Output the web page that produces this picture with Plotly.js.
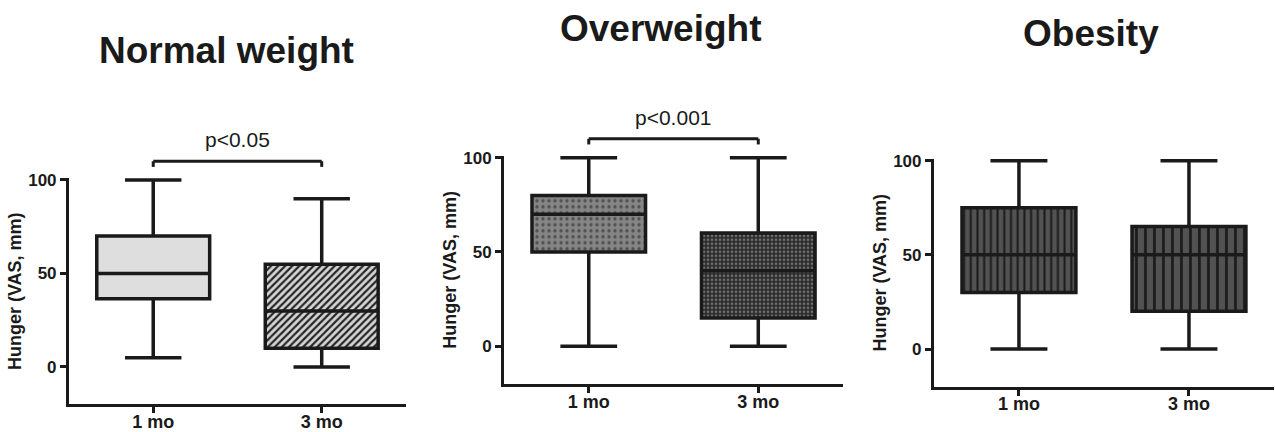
<!DOCTYPE html>
<html>
<head>
<meta charset="utf-8">
<script src="https://cdn.plot.ly/plotly-3.0.1.min.js"></script>
<style>html,body{margin:0;padding:0;background:#fff;}#chart{width:1275px;height:432px;}</style>
</head>
<body>
<div id="chart"></div>
<script>
// ---------- data ----------
const categories = ['1 mo', '3 mo'];
const panelTitles = ['Normal weight', 'Overweight', 'Obesity'];
const pLabels = ['p<0.05', 'p<0.001', null];
const yTickVals = [0, 50, 100];
const yTickText = ['0', '50', '100'];
const yAxisTitle = 'Hunger (VAS, mm)';

// Normal weight
const normalMin    = [5, 0];
const normalQ1     = [36.5, 10];
const normalMedian = [50, 30];
const normalQ3     = [70, 55];
const normalMax    = [100, 90];
// Overweight
const overMin    = [0, 0];
const overQ1     = [50, 15];
const overMedian = [70, 40];
const overQ3     = [80, 60];
const overMax    = [100, 100];
// Obesity
const obeseMin    = [0, 0];
const obeseQ1     = [30, 20];
const obeseMedian = [50, 50];
const obeseQ3     = [75, 65];
const obeseMax    = [100, 100];

// ---------- style ----------
const FONT = 'Liberation Sans, Arial, Helvetica, sans-serif';
const INK = '#1a1a1a';
const Y_RANGE = [-20, 101];
const BRACKET_TOP = 110, BRACKET_END = 107, PLABEL_Y = 121.5;

const panels = [
  {min: normalMin, q1: normalQ1, med: normalMedian, q3: normalQ3, max: normalMax,
   xdom: [0.0541, 0.3184], ydom: [0.0639, 0.5877], titleX: 0.1773, titleY: 0.882,
   solid: '#dedede',
   pattern: {shape: ['', '/'], bg: ['#dedede', '#d6d6d6'], fg: ['#dedede', '#262626'], size: [6, 5], sol: [0.3, 0.45]}},
  {min: overMin, q1: overQ1, med: overMedian, q3: overQ3, max: overMax,
   xdom: [0.3953, 0.6612], ydom: [0.1111, 0.6394], titleX: 0.5184, titleY: 0.933,
   solid: '#808080',
   pattern: {shape: ['.', '+'], bg: ['#858585', '#6e6e6e'], fg: ['#505050', '#262626'], size: [6, 4], sol: [0.25, 0.6]}},
  {min: obeseMin, q1: obeseQ1, med: obeseMedian, q3: obeseQ3, max: obeseMax,
   xdom: [0.7325, 0.9992], ydom: [0.1049, 0.6324], titleX: 0.8557, titleY: 0.922,
   solid: '#505050',
   pattern: {shape: ['|', '|'], bg: ['#525252', '#525252'], fg: ['#1a1a1a', '#1a1a1a'], size: [6.7, 9], sol: [0.3, 0.3]}}
];

function y2paper(p, v) {
  const d = p.ydom;
  return d[0] + (v - Y_RANGE[0]) / (Y_RANGE[1] - Y_RANGE[0]) * (d[1] - d[0]);
}

const traces = [];
const layout = {
  width: 1275, height: 432,
  margin: {l: 0, r: 0, t: 0, b: 0},
  paper_bgcolor: '#ffffff', plot_bgcolor: '#ffffff',
  showlegend: false,
  barmode: 'overlay',
  font: {family: FONT, color: INK},
  annotations: [], shapes: []
};

panels.forEach((p, i) => {
  const n = i + 1;
  const xa = 'x' + (n === 1 ? '' : n);
  const ya = 'y' + (n === 1 ? '' : n);
  // patterned fill of the boxes
  traces.push({
    type: 'bar', x: categories,
    base: p.q1, y: p.q3.map((v, k) => v - p.q1[k]),
    width: 0.67, xaxis: xa, yaxis: ya, hoverinfo: 'skip',
    marker: {color: p.solid, line: {width: 0},
      pattern: {shape: p.pattern.shape, bgcolor: p.pattern.bg, fgcolor: p.pattern.fg, fgopacity: 1,
                size: p.pattern.size, solidity: p.pattern.sol}}
  });
  // box outline, median and whiskers
  traces.push({
    type: 'box', x: categories,
    lowerfence: p.min, q1: p.q1, median: p.med, q3: p.q3, upperfence: p.max,
    boxpoints: false, width: 0.67, whiskerwidth: 0.5,
    fillcolor: 'rgba(0,0,0,0)', line: {color: INK, width: 3.5},
    xaxis: xa, yaxis: ya, hoverinfo: 'skip'
  });

  layout['xaxis' + (n === 1 ? '' : n)] = {
    domain: p.xdom, anchor: ya, type: 'category', range: [-0.5, 1.5],
    showline: true, linewidth: 3, linecolor: INK, mirror: false,
    ticks: 'outside', ticklen: 6, tickwidth: 3, tickcolor: INK,
    ticklabelstandoff: -7,
    tickfont: {family: FONT, size: 18, color: INK, weight: 'bold'},
    showgrid: false, zeroline: false, fixedrange: true
  };
  layout['yaxis' + (n === 1 ? '' : n)] = {
    domain: p.ydom, anchor: xa, range: Y_RANGE,
    tickvals: yTickVals, ticktext: yTickText,
    showline: true, linewidth: 3, linecolor: INK,
    ticks: 'outside', ticklen: 6, tickwidth: 3, tickcolor: INK,
    tickfont: {family: FONT, size: 17, color: INK, weight: 'bold'},
    title: {text: yAxisTitle, font: {family: FONT, size: 18, color: INK, weight: 'bold'}},
    showgrid: false, zeroline: false, fixedrange: true
  };

  layout.annotations.push({
    xref: 'paper', yref: 'paper', x: p.titleX, y: p.titleY,
    xanchor: 'center', yanchor: 'middle', showarrow: false,
    text: panelTitles[i], font: {family: FONT, size: 37, color: INK, weight: 'bold'}
  });

  if (pLabels[i]) {
    const yt = y2paper(p, BRACKET_TOP), ye = y2paper(p, BRACKET_END);
    const ln = {color: INK, width: 3};
    layout.shapes.push({type: 'line', xref: xa, yref: 'paper', x0: categories[0], x1: categories[1], y0: yt, y1: yt, line: ln});
    layout.shapes.push({type: 'line', xref: xa, yref: 'paper', x0: categories[0], x1: categories[0], y0: yt, y1: ye, line: ln});
    layout.shapes.push({type: 'line', xref: xa, yref: 'paper', x0: categories[1], x1: categories[1], y0: yt, y1: ye, line: ln});
    layout.annotations.push({
      xref: xa, yref: 'paper', x: 0.5, y: y2paper(p, PLABEL_Y),
      xanchor: 'center', yanchor: 'middle', showarrow: false,
      text: pLabels[i], font: {family: FONT, size: 21, color: INK}
    });
  }
});

Plotly.newPlot('chart', traces, layout, {staticPlot: true, displayModeBar: false});
</script>
</body>
</html>
